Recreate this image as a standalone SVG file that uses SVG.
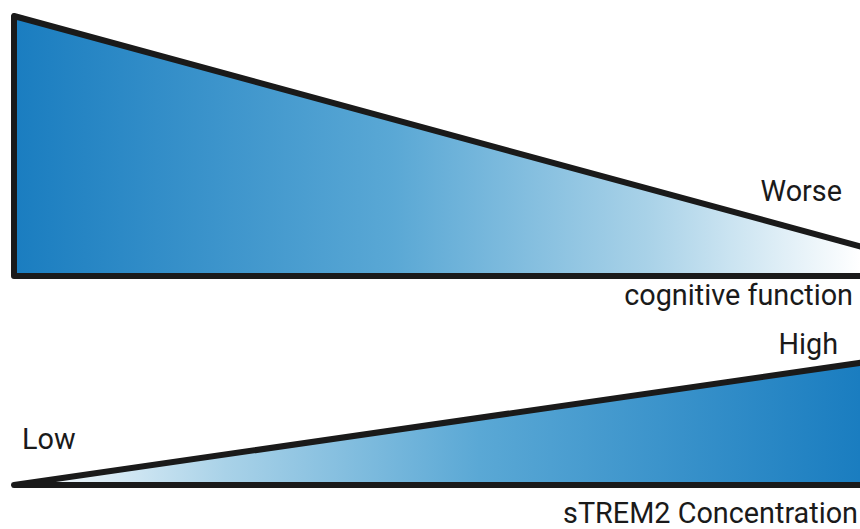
<svg xmlns="http://www.w3.org/2000/svg" width="860" height="529" viewBox="0 0 860 529">
<defs>
<linearGradient id="gDown" x1="14" y1="0" x2="860" y2="0" gradientUnits="userSpaceOnUse">
<stop offset="0" stop-color="#1a7dc0"/>
<stop offset="0.45" stop-color="#5aa8d5"/>
<stop offset="0.75" stop-color="#a9d2e8"/>
<stop offset="1" stop-color="#ffffff"/>
</linearGradient>
<linearGradient id="gUp" x1="14" y1="0" x2="860" y2="0" gradientUnits="userSpaceOnUse">
<stop offset="0" stop-color="#ffffff"/>
<stop offset="0.25" stop-color="#a9d2e8"/>
<stop offset="0.55" stop-color="#5aa8d5"/>
<stop offset="1" stop-color="#1a7dc0"/>
</linearGradient>
<style>
.lbl{font-family:Roboto,"Liberation Sans",sans-serif;font-size:28.8px;fill:#1a1a1a}
.edge{fill:none;stroke:#1a1a1a;stroke-width:6;stroke-linejoin:round;stroke-linecap:round}
</style>
</defs>
<g id="cognitive-triangle">
<polygon points="14,16 866,248 866,276 14,276" fill="url(#gDown)"/>
<polyline class="edge" points="866,248 14,16 14,276 866,276"/>
<text class="lbl" x="842" y="201" text-anchor="end">Worse</text>
<text class="lbl" x="853" y="305" text-anchor="end">cognitive function</text>
</g>
<g id="strem2-triangle">
<polygon points="14,485 866,362 866,485" fill="url(#gUp)"/>
<polyline class="edge" points="866,362 14,485 866,485"/>
<text class="lbl" x="838" y="354" text-anchor="end">High</text>
<text class="lbl" x="22" y="449">Low</text>
<text class="lbl" x="858" y="523" text-anchor="end">sTREM2 Concentration</text>
</g>
</svg>
